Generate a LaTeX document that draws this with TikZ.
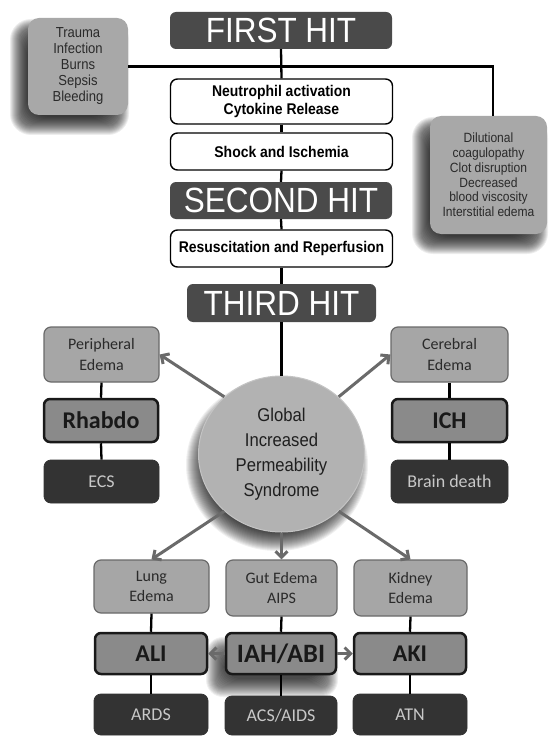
\documentclass[tikz,border=0pt]{standalone}
\usepackage{fontspec}
\newfontfamily\arialn[FakeStretch=0.9]{Liberation Sans}
\newfontfamily\calib{Carlito}
\usetikzlibrary{arrows.meta,shapes.geometric}
\definecolor{hitgray}{HTML}{4A4A4A}
\definecolor{sidegray}{HTML}{A8A8A8}
\definecolor{txtdark}{HTML}{2A2A2A}
\definecolor{edemagray}{HTML}{A6A6A6}
\definecolor{edgegray}{HTML}{6A6A6A}
\definecolor{organgray}{HTML}{8A8A8A}
\definecolor{enddark}{HTML}{333333}
\definecolor{endtext}{HTML}{C8C8C8}
\definecolor{arrowgray}{HTML}{6A6A6A}
\definecolor{circfill}{HTML}{B2B2B2}
\definecolor{circedge}{HTML}{C4C4C4}
\begin{document}
\begin{tikzpicture}[x=1pt,y=-1pt,
  base/.style={rectangle, inner sep=0pt, align=center},
  hit/.style={base, fill=hitgray, rounded corners=6pt, text=white,
    font=\arialn\fontsize{35}{38}\selectfont},
  wbox/.style={base, draw=black, line width=1.4pt, fill=white, rounded corners=7pt,
    font=\arialn\bfseries\fontsize{15.5}{18.5}\selectfont},
  side/.style={base, fill=sidegray, rounded corners=11pt, text=txtdark},
  edema/.style={base, fill=edemagray, draw=edgegray, line width=1.2pt, rounded corners=7pt,
    text=txtdark, font=\calib\fontsize{16}{20.5}\selectfont},
  organ/.style={base, fill=organgray, draw=black!90, line width=2.5pt, rounded corners=6pt,
    text=black!90, font=\calib\bfseries\fontsize{24}{26}\selectfont},
  endbox/.style={base, fill=enddark, draw=black!80, line width=0.8pt, rounded corners=7pt,
    text=endtext, font=\calib\fontsize{18}{20}\selectfont},
  link/.style={draw=black, line width=2.3pt},
  garrow/.style={draw=arrowgray, line width=3pt, -{Straight Barb[length=6pt,width=12pt]}}
]
\useasboundingbox (0,0) rectangle (549,738);
\fill[white] (0,0) rectangle (549,738);

% soft shadows
\foreach \i in {-9,...,9}{
  \fill[black, opacity=0.07, rounded corners={12pt+abs(\i)*1pt}] ({19-\i},{28-\i}) rectangle ({120+\i},{126+\i});
  \fill[black, opacity=0.07, rounded corners={12pt+abs(\i)*1pt}] ({421-\i},{126-\i}) rectangle ({539+\i},{245+\i});
  \fill[black, opacity=0.06] (277,465) ellipse [x radius={(82+\i)*1pt}, y radius={(77+\i)*1pt}];
  \fill[black, opacity=0.06, rounded corners={8pt+abs(\i)*1pt}] ({215-\i},{646-\i}) rectangle ({329+\i},{688+\i});
}

% top section
\node[side, minimum width=100pt, minimum height=97pt,
  font=\arialn\fontsize{14.5}{16}\selectfont] (causes) at (78,66.5)
  {Trauma\\Infection\\Burns\\Sepsis\\Bleeding};
\node[side, minimum width=117pt, minimum height=118pt,
  font=\arialn\fontsize{13.4}{14.8}\selectfont] (effects) at (488.5,175)
  {Dilutional\\coagulopathy\\Clot disruption\\Decreased\\blood viscosity\\Interstitial edema};
\coordinate (rtop) at (493,116);

\node[hit, minimum width=222pt, minimum height=37pt] (first) at (281,30.5) {FIRST HIT};
\node[wbox, minimum width=222pt, minimum height=45pt] (neut) at (281.5,101.5)
  {Neutrophil activation\\Cytokine Release};
\node[wbox, minimum width=222pt, minimum height=37pt] (shock) at (281.5,151.5) {Shock and Ischemia};
\node[hit, minimum width=222pt, minimum height=37pt] (second) at (281,200.5) {SECOND HIT};
\node[wbox, minimum width=222pt, minimum height=37pt] (resus) at (281.5,248.5) {Resuscitation and Reperfusion};
\node[hit, minimum width=189pt, minimum height=38pt] (third) at (281.5,303) {THIRD HIT};

\draw[link] (causes.east) -| (rtop);
\draw[link] (first.south) -- (neut.north);
\draw[link] (neut.south) -- (shock.north);
\draw[link] (shock.south) -- (second.north);
\draw[link] (second.south) -- (resus.north);
\draw[link] (resus.south) -- (third.north);

% circle
\node[ellipse, fill=circfill, draw=circedge, line width=1pt, minimum width=166pt, minimum height=156pt,
  inner sep=0pt, align=center, text=black!88, font=\arialn\fontsize{18.5}{25}\selectfont] (gips) at (281.5,454)
  {Global\\Increased\\Permeability\\Syndrome};
\draw[link] (third.south) -- (gips.north);

% side columns
\node[edema, minimum width=115pt, minimum height=55pt] (periph) at (101.5,354.5) {Peripheral\\Edema};
\node[organ, minimum width=114pt, minimum height=43pt] (rhabdo) at (101,420.5) {Rhabdo};
\node[endbox, minimum width=115pt, minimum height=43pt] (ecs) at (101.5,481.5) {ECS};
\node[edema, minimum width=117pt, minimum height=55pt] (cereb) at (449.5,354.5) {Cerebral\\Edema};
\node[organ, minimum width=115pt, minimum height=43pt] (ich) at (449.5,420.5) {ICH};
\node[endbox, minimum width=117pt, minimum height=43pt] (brain) at (449.5,481.5) {Brain death};

% bottom columns
\node[edema, minimum width=115pt, minimum height=53pt] (lung) at (151.5,586.5) {Lung\\Edema};
\node[edema, minimum width=111pt, minimum height=56pt] (gut) at (281.5,588) {Gut Edema\\AIPS};
\node[edema, minimum width=113pt, minimum height=56pt] (kidney) at (410.5,588) {Kidney\\Edema};
\node[organ, minimum width=112pt, minimum height=41pt] (ali) at (151,653.5) {ALI};
\node[organ, minimum width=110pt, minimum height=41pt, font=\calib\bfseries\fontsize{26.5}{28}\selectfont] (iah) at (281,653.5) {IAH/ABI};
\node[organ, minimum width=112pt, minimum height=41pt] (aki) at (410,653.5) {AKI};
\node[endbox, minimum width=114pt, minimum height=41pt] (ards) at (151,714.5) {ARDS};
\node[endbox, minimum width=112pt, minimum height=39pt] (acs) at (281,715.5) {ACS/AIDS};
\node[endbox, minimum width=114pt, minimum height=41pt] (atn) at (410,714.5) {ATN};

% black links
\draw[link] (periph.south) -- (rhabdo.north);
\draw[link] (rhabdo.south) -- (ecs.north);
\draw[link] (cereb.south) -- (ich.north);
\draw[link] (ich.south) -- (brain.north);
\draw[link] (lung.south) -- (ali.north);
\draw[link] (ali.south) -- (ards.north);
\draw[link] (gut.south) -- (iah.north);
\draw[link] (iah.south) -- (acs.north);
\draw[link] (kidney.south) -- (aki.north);
\draw[link] (aki.south) -- (atn.north);

% gray arrows
\draw[garrow] (gips.135) -- (periph.east);
\draw[garrow] (gips.45) -- (cereb.west);
\draw[garrow] (gips.225) -- (lung.north);
\draw[garrow] (gips.south) -- (gut.north);
\draw[garrow] (gips.-45) -- (kidney.north);
\draw[garrow] (iah.west) -- (ali.east);
\draw[garrow] (iah.east) -- (aki.west);
\end{tikzpicture}
\end{document}
